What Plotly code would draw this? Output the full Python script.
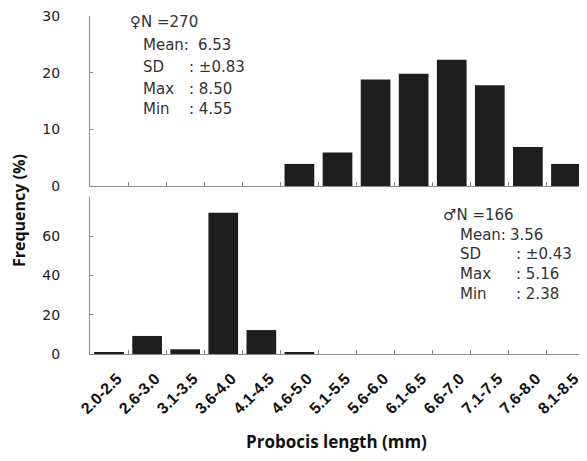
import plotly.graph_objects as go

categories = ["2.0-2.5", "2.6-3.0", "3.1-3.5", "3.6-4.0", "4.1-4.5", "4.6-5.0", "5.1-5.5",
              "5.6-6.0", "6.1-6.5", "6.6-7.0", "7.1-7.5", "7.6-8.0", "8.1-8.5"]
female_pct = [0, 0, 0, 0, 0, 3.9, 5.9, 18.8, 19.8, 22.3, 17.8, 6.9, 3.9]
male_pct = [0.6, 9.2, 2.4, 72.0, 12.2, 0.6, 0, 0, 0, 0, 0, 0, 0]

female_stats = [("♀N =270", ""), ("Mean:", "6.53"), ("SD", ": ±0.83"), ("Max", ": 8.50"), ("Min", ": 4.55")]
male_stats = [("♂N =166", ""), ("Mean:", "3.56"), ("SD", ": ±0.43"), ("Max", ": 5.16"), ("Min", ": 2.38")]

bar_color = "#1e1e1e"
axis_color = "#8a8a8a"

fig = go.Figure()
fig.add_trace(go.Bar(x=categories, y=male_pct, marker=dict(color=bar_color, line=dict(width=0)),
                     xaxis="x", yaxis="y", showlegend=False))
fig.add_trace(go.Bar(x=categories, y=female_pct, marker=dict(color=bar_color, line=dict(width=0)),
                     xaxis="x2", yaxis="y2", showlegend=False))

xcommon = dict(type="category", showline=True, linecolor=axis_color, linewidth=1,
               ticks="inside", ticklen=4, tickcolor=axis_color, tickson="boundaries",
               showgrid=False, zeroline=False, range=[-0.5, 12.5], automargin=False)
ycommon = dict(showline=True, linecolor=axis_color, linewidth=1, ticks="inside", ticklen=3,
               tickcolor=axis_color, showgrid=False, zeroline=False, automargin=False,
               ticklabeloverflow="allow",
               tickfont=dict(family="DejaVu Sans", size=14, color="#222"), ticklabelstandoff=26)

# page has an 8px body margin, so the figure is sized to fit the 587x461 window
fig.update_layout(
    width=579, height=453,
    margin=dict(l=82, r=2, t=8, b=107),
    paper_bgcolor="white", plot_bgcolor="white",
    bargap=0.22,
    xaxis=dict(**xcommon, anchor="y", domain=[0, 1], tickangle=-45,
               ticklabelstandoff=8, ticklabelshift=8, ticklabeloverflow="allow",
               tickfont=dict(family="Liberation Sans", size=16, color="#111", weight="bold")),
    xaxis2=dict(**xcommon, anchor="y2", domain=[0, 1], matches="x", showticklabels=False),
    yaxis=dict(**ycommon, domain=[0, 0.4645], range=[0, 80], tickvals=[0, 20, 40, 60]),
    yaxis2=dict(**ycommon, domain=[0.497, 1.0], range=[0, 30], tickvals=[0, 10, 20, 30]),
)

ann = []
font_txt = dict(family="DejaVu Sans", size=15, color="#333")
top_rows_y = [0.982, 0.914, 0.849, 0.784, 0.725]
bot_rows_y = [0.411, 0.352, 0.296, 0.237, 0.178]

def px(xp):
    return (xp - 90) / 495.0

for i, (lab, val) in enumerate(female_stats):
    x0 = 128 if i == 0 else 141
    ann.append(dict(x=px(x0), y=top_rows_y[i], xref="paper", yref="paper", text=lab,
                    showarrow=False, xanchor="left", yanchor="middle", font=font_txt))
    if val:
        x1 = 196 if i == 1 else 187
        ann.append(dict(x=px(x1), y=top_rows_y[i], xref="paper", yref="paper", text=val,
                        showarrow=False, xanchor="left", yanchor="middle", font=font_txt))

for i, (lab, val) in enumerate(male_stats):
    x0 = 441 if i == 0 else 458
    ann.append(dict(x=px(x0), y=bot_rows_y[i], xref="paper", yref="paper", text=lab,
                    showarrow=False, xanchor="left", yanchor="middle", font=font_txt))
    if val:
        x1 = 508 if i == 1 else 514
        ann.append(dict(x=px(x1), y=bot_rows_y[i], xref="paper", yref="paper", text=val,
                        showarrow=False, xanchor="left", yanchor="middle", font=font_txt))

ann.append(dict(x=px(19), y=0.423, xref="paper", yref="paper", text="<b>Frequency (%)</b>",
                textangle=-90, showarrow=False, xanchor="center", yanchor="middle",
                font=dict(family="Open Sans", size=16, color="#111")))
ann.append(dict(x=px(336), y=-0.260, xref="paper", yref="paper", text="<b>Probocis length (mm)</b>",
                showarrow=False, xanchor="center", yanchor="middle",
                font=dict(family="Open Sans", size=17, color="#111")))
fig.update_layout(annotations=ann)

fig.write_html("out.html")
